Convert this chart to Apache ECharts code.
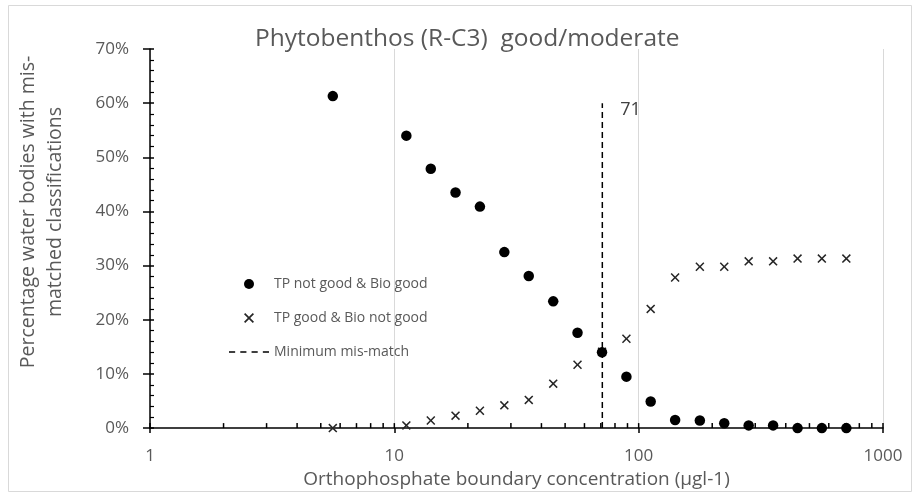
<!DOCTYPE html>
<html>
<head>
<meta charset="utf-8">
<script src="https://cdn.jsdelivr.net/npm/echarts@6/dist/echarts.min.js"></script>
<style>
  html, body { margin: 0; padding: 0; background: #fff; }
  #chart { width: 915px; height: 494px; }
</style>
</head>
<body>
<div id="chart"></div>
<script>
// Candidate orthophosphate boundaries (µg/l)
const concentrations = [5.6, 11.2, 14.1, 17.8, 22.4, 28.2, 35.5, 44.7, 56.2, 70.8,
                        89.1, 112, 141, 178, 224, 282, 355, 447, 562, 708];
// % of water bodies: TP not good while biology good
const tpNotGoodBioGood = [61.3, 54.0, 47.9, 43.5, 40.9, 32.5, 28.1, 23.4, 17.6, 14.0,
                          9.5, 4.9, 1.5, 1.4, 0.9, 0.5, 0.5, 0, 0, 0];
// % of water bodies: TP good while biology not good
const tpGoodBioNotGood = [0, 0.5, 1.4, 2.3, 3.2, 4.2, 5.2, 8.2, 11.7, 14.1,
                          16.5, 22.0, 27.8, 29.8, 29.8, 30.8, 30.8, 31.3, 31.3, 31.3];
// Boundary giving the minimum mis-match, and the height of its marker line
const minimumMismatch = 71;
const minimumMismatchTop = 60;
// Positions of the inner tick marks on the log axis (decades and their subdivisions)
const xTickValues = [1, 2, 3, 4, 5, 6, 7, 8, 9,
                     10, 20, 30, 40, 50, 60, 70, 80, 90,
                     100, 200, 300, 400, 500, 600, 700, 800, 900, 1000];

const seriesNames = ['TP not good & Bio good', 'TP good & Bio not good', 'Minimum mis-match'];
const titleText = 'Phytobenthos (R-C3)  good/moderate';
const xAxisTitle = 'Orthophosphate boundary concentration (µgl-1)';
const yAxisTitle = 'Percentage water bodies with mis-\nmatched classifications';

const FONT = '"Open Sans", "Noto Sans", sans-serif';
const TEXT = '#595959';
const crossSymbol = 'path://M0,1.2L1.2,0L5,3.8L8.8,0L10,1.2L6.2,5L10,8.8L8.8,10L5,6.2L1.2,10L0,8.8L3.8,5Z';
// dashed legend key for the minimum mis-match line
const dashedKey = 'path://M0,0h6v1.5h-6zM11,0h6v1.5h-6zM22,0h6v1.5h-6zM33,0h6v1.5h-6z';

const zip = (xs, ys) => xs.map((x, i) => [x, ys[i]]);

const chart = echarts.init(document.getElementById('chart'), null, { renderer: 'canvas' });

chart.setOption({
  animation: false,
  backgroundColor: '#ffffff',
  textStyle: { fontFamily: FONT },
  title: {
    text: titleText,
    left: 255,
    top: 27,
    padding: 0,
    textStyle: { fontFamily: FONT, fontSize: 24.5, fontWeight: 'normal', color: TEXT }
  },
  graphic: [
    {
      type: 'rect',
      silent: true,
      shape: { x: 8.5, y: 5.5, width: 903, height: 486 },
      style: { fill: 'none', stroke: '#d9d9d9', lineWidth: 1 },
      z: -10
    },
    {
      type: 'text',
      silent: true,
      x: 42,
      y: 212,
      rotation: Math.PI / 2,
      style: {
        text: yAxisTitle,
        fontFamily: FONT,
        fontSize: 19.5,
        lineHeight: 27,
        fill: TEXT,
        align: 'center',
        verticalAlign: 'middle'
      }
    }
  ],
  legend: {
    orient: 'vertical',
    left: 229,
    top: 277,
    padding: 0,
    itemWidth: 40,
    itemHeight: 10,
    itemGap: 20,
    selectedMode: false,
    data: [
      { name: seriesNames[0] },
      { name: seriesNames[1] },
      { name: seriesNames[2], icon: dashedKey }
    ],
    textStyle: { fontFamily: FONT, fontSize: 14, color: TEXT }
  },
  grid: { left: 150, right: 32, top: 49, bottom: 61 },
  xAxis: {
    type: 'log',
    logBase: 10,
    min: 1,
    max: 1000,
    name: xAxisTitle,
    nameLocation: 'middle',
    nameGap: 40,
    nameTextStyle: { fontFamily: FONT, fontSize: 19, color: TEXT },
    axisLine: { show: true, onZero: false, lineStyle: { color: '#000', width: 1.5 } },
    axisTick: { show: true, inside: false, length: 5, lineStyle: { color: '#000', width: 1.5 } },
    minorTick: { show: false },
    axisLabel: { fontFamily: FONT, fontSize: 17, color: TEXT, margin: 20, formatter: v => String(v) },
    splitLine: { show: true, lineStyle: { color: '#d9d9d9', width: 1 } }
  },
  yAxis: [
    {
      type: 'value',
      min: 0,
      max: 70,
      interval: 10,
      position: 'left',
      axisLine: { show: true, onZero: false, lineStyle: { color: '#000', width: 1.5 } },
      axisTick: { show: true, inside: true, length: 4, lineStyle: { color: '#000', width: 1.5 } },
      minorTick: { show: true, splitNumber: 5, length: 4, lineStyle: { color: '#000', width: 1.2 } },
      axisLabel: { formatter: '{value}%', fontFamily: FONT, fontSize: 17, color: TEXT, margin: 21 },
      splitLine: { show: false }
    },
    {
      // outer half of the crossing major ticks
      type: 'value',
      min: 0,
      max: 70,
      interval: 10,
      position: 'left',
      offset: 0,
      axisLine: { show: false },
      axisTick: { show: true, inside: false, length: 7, lineStyle: { color: '#000', width: 1.5 } },
      axisLabel: { show: false },
      splitLine: { show: false }
    }
  ],
  series: [
    {
      name: seriesNames[0],
      type: 'scatter',
      symbol: 'circle',
      symbolSize: 10.5,
      itemStyle: { color: '#000', opacity: 1 },
      data: zip(concentrations, tpNotGoodBioGood),
      z: 4
    },
    {
      name: seriesNames[1],
      type: 'scatter',
      symbol: crossSymbol,
      symbolSize: 9,
      itemStyle: { color: '#262626', opacity: 1 },
      data: zip(concentrations, tpGoodBioNotGood),
      z: 3
    },
    {
      name: seriesNames[2],
      type: 'line',
      symbol: 'none',
      color: '#000',
      lineStyle: { color: '#000', width: 1.5, type: [6, 4] },
      data: [[minimumMismatch, 0], [minimumMismatch, minimumMismatchTop]],
      endLabel: {
        show: true,
        formatter: String(minimumMismatch),
        fontFamily: FONT,
        fontSize: 18,
        color: '#404040',
        distance: 18,
        offset: [0, 7]
      },
      z: 2
    },
    {
      // inner tick marks along the log axis
      type: 'custom',
      silent: true,
      clip: false,
      data: xTickValues.map(v => [v, 0]),
      renderItem: (params, api) => {
        const p = api.coord([api.value(0), 0]);
        return {
          type: 'line',
          shape: { x1: p[0], y1: p[1], x2: p[0], y2: p[1] - 5 },
          style: { stroke: '#000', lineWidth: 1.5 }
        };
      },
      z: 5
    }
  ]
});
</script>
</body>
</html>
